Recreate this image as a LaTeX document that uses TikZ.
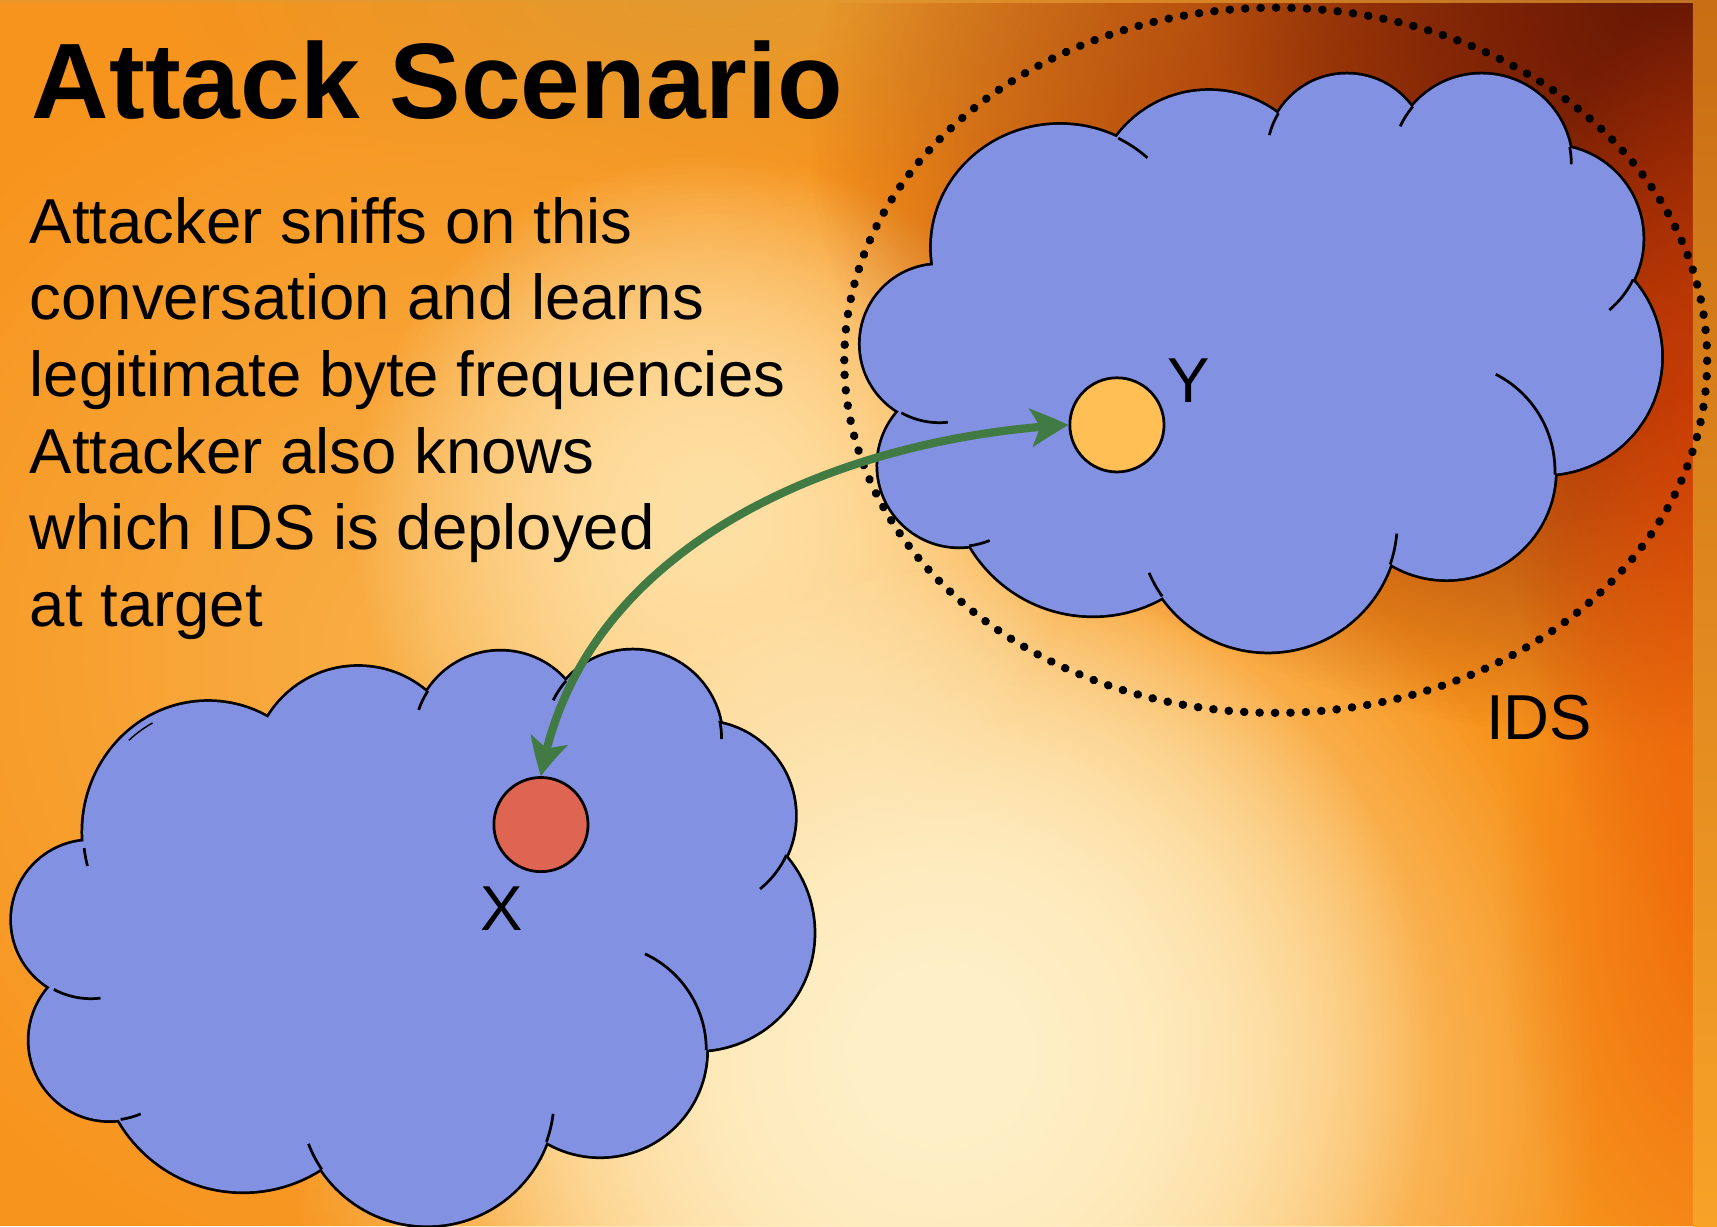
\documentclass[tikz,border=0pt]{standalone}
\usepackage{fontspec}
\setmainfont{Liberation Sans}
\usetikzlibrary{arrows.meta,bending,fadings}

\definecolor{bgbase}{RGB}{247,148,29}
\definecolor{bgwarm}{RGB}{249,176,72}
\definecolor{bgpeach}{RGB}{255,216,144}
\definecolor{bgcream}{RGB}{255,240,200}
\definecolor{bgband}{RGB}{255,224,164}
\definecolor{bggold}{RGB}{227,154,48}
\definecolor{bgdark}{RGB}{100,22,4}
\definecolor{bgrust}{RGB}{150,44,6}
\definecolor{bgred}{RGB}{204,58,4}
\definecolor{bgedge}{RGB}{240,106,10}
\definecolor{stripTop}{RGB}{200,110,20}
\definecolor{stripBot}{RGB}{248,162,40}
\definecolor{cloudblue}{RGB}{131,145,227}
\definecolor{nodeYfill}{RGB}{255,191,85}
\definecolor{nodeXfill}{RGB}{223,101,83}
\definecolor{linkgreen}{RGB}{66,122,68}

% radial mask: opaque at the centre, clear at the rim of the filled path
\tikzfading[name=glow, inner color=transparent!0, outer color=transparent!100]

\begin{document}
\begin{tikzpicture}[x=1pt,y=1pt,
  halo/.style={fill=#1, path fading=glow},
  cloudline/.style={draw=black, line width=2.5pt},
  cloudrim/.style={draw=black, line width=5pt},
  cloudfill/.style={fill=cloudblue},
  host/.style={circle, draw=black, line width=2.5pt, minimum size=86pt, inner sep=0pt},
  body/.style={font=\fontsize{58pt}{70pt}\selectfont, anchor=base west, inner sep=0pt},
  tag/.style={font=\fontsize{58pt}{70pt}\selectfont, anchor=base west, inner sep=0pt},
  link/.style={draw=linkgreen, line width=7.5pt,
    arrows={Stealth[length=35pt,width=36pt,inset=9pt,line width=0pt,bend]-Stealth[length=35pt,width=36pt,inset=9pt,line width=0pt,bend]}},
  idsring/.style={draw=black, line width=7.6pt, line cap=round, dash pattern=on 0.3pt off 13.8pt}
]
\useasboundingbox (0,0) rectangle (1568,-1120);
\clip (0,0) rectangle (1568,-1120);

% ---- warm background ----
\fill[bgbase] (0,0) rectangle (1568,-1120);
\fill[halo=bgwarm] (400,-600) circle[radius=600];
\foreach \k in {1,2}
  \fill[halo=bgpeach] (860,-1000) circle[radius=600];
\foreach \k in {1,2}
  \fill[halo=bgband] (650,-470) circle[radius=330];
\foreach \k in {1,2}
  \fill[halo=bgcream] (860,-960) circle[radius=450];
\fill[halo=bggold] (650,0) ellipse[x radius=520, y radius=170];
\foreach \k in {1,2}
  \fill[halo=bgrust] (1560,-120) ellipse[x radius=820, y radius=560];
\fill[halo=bgdark] (1560,0) ellipse[x radius=460, y radius=280];
\fill[halo=bgred] (1568,-420) ellipse[x radius=190, y radius=440];
\fill[halo=bgedge] (1568,-800) ellipse[x radius=200, y radius=450];
\shade[top color=stripTop, bottom color=stripBot] (1546,0) rectangle (1568,-1120);
\fill[bggold, opacity=0.7] (0,0) rectangle (1546,-3);

% ---- IDS boundary ----
\draw[idsring] (771,-329) arc[start angle=180, end angle=-180, x radius=394, y radius=322];

% ---- network cloud around X ----
\begin{scope}
  \draw[cloudrim] (190,-760) ellipse[x radius=114, y radius=119];
  \foreach \cx/\cy/\r in {327/705/96, 457/674/79, 578/675/81, 640/745/86, 636/852/107,
                          548/959/97, 390/1003/116, 222/957/131, 100/950/73, 83/840/72}
    \draw[cloudrim] (\cx,-\cy) circle[radius=\r];
  \fill[cloudfill] (190,-760) ellipse[x radius=114, y radius=119];
  \foreach \cx/\cy/\r in {327/705/96, 457/674/79, 578/675/81, 640/745/86, 636/852/107,
                          548/959/97, 390/1003/116, 222/957/131, 100/950/73, 83/840/72}
    \fill[cloudfill] (\cx,-\cy) circle[radius=\r];
  \fill[cloudfill] (190,-760) -- (327,-705) -- (457,-674) -- (578,-675) -- (640,-745)
    -- (636,-852) -- (548,-959) -- (390,-1003) -- (222,-957) -- (100,-950) -- (83,-840) -- cycle;
  % inner seams of the puffs
  \draw[cloudline] (190,-760) ++(187:114 and 119) arc[start angle=187, end angle=195, x radius=114, y radius=119];
  \draw[black, line width=1.3pt] (190,-760) ++(132:108 and 113) arc[start angle=132, end angle=118, x radius=108, y radius=113];
  \foreach \cx/\cy/\r/\a/\b in {457/674/79/147/161, 578/675/81/139/154, 578/675/81/12/0,
                                640/745/86/-24.5/-51, 548/959/97/0/65, 390/1003/116/-20/-7,
                                390/1003/116/214/201, 100/950/73/-82/-67, 83/840/72/242/277}
    \draw[cloudline] (\cx,-\cy) ++(\a:\r) arc[start angle=\a, end angle=\b, radius=\r];
\end{scope}

% ---- network cloud around Y ----
\begin{scope}
  \draw[cloudrim] (968,-226) ellipse[x radius=117, y radius=112];
  \foreach \cx/\cy/\r in {1104/188/105, 1230/141/73, 1353/150/82, 1415/218/85, 1410/326/107,
                          1321/430/99, 1158/477/118, 998/432/130, 876/425/74, 858/314/72}
    \draw[cloudrim] (\cx,-\cy) circle[radius=\r];
  \fill[cloudfill] (968,-226) ellipse[x radius=117, y radius=112];
  \foreach \cx/\cy/\r in {1104/188/105, 1230/141/73, 1353/150/82, 1415/218/85, 1410/326/107,
                          1321/430/99, 1158/477/118, 998/432/130, 876/425/74, 858/314/72}
    \fill[cloudfill] (\cx,-\cy) circle[radius=\r];
  \fill[cloudfill] (968,-226) -- (1104,-188) -- (1230,-141) -- (1353,-150) -- (1415,-218)
    -- (1410,-326) -- (1321,-430) -- (1158,-477) -- (998,-432) -- (876,-425) -- (858,-314) -- cycle;
  % inner seams of the puffs
  \draw[cloudline] (968,-226) ++(63:117 and 112) arc[start angle=63, end angle=47, x radius=117, y radius=112];
  \foreach \cx/\cy/\r/\a/\b in {1230/141/73/149/166, 1353/150/82/140/155, 1353/150/82/11/0,
                                1415/218/85/-26/-50, 1321/430/99/-2/63, 1158/477/118/-19/-5,
                                1158/477/118/215/203, 876/425/74/-83/-68, 858/314/72/241/276}
    \draw[cloudline] (\cx,-\cy) ++(\a:\r) arc[start angle=\a, end angle=\b, radius=\r];
\end{scope}

% ---- hosts and labels ----
\node[host, fill=nodeYfill] (y) at (1020,-388) {};
\node[host, fill=nodeXfill] (x) at (494,-753) {};
\node[tag] (ylabel) at (1066,-368) {Y};
\node[tag] (xlabel) at (439,-850) {X};
\node[tag] (idslabel) at (1357,-675) {IDS};

% ---- observed conversation ----
\draw[link] (x.north) .. controls +(36,208) and +(-216,-12) .. (y.west);

% ---- title and description ----
\node[font=\fontsize{98pt}{118pt}\selectfont\bfseries, anchor=base west, inner sep=0pt] (title) at (29,-108) {Attack Scenario};
\node[body] (l1) at (27,-222) {Attacker sniffs on this};
\node[body] (l2) at (27,-292) {conversation and learns};
\node[body] (l3) at (27,-362) {legitimate byte frequencies};
\node[body] (l4) at (27,-432) {Attacker also knows};
\node[body] (l5) at (27,-502) {which IDS is deployed};
\node[body] (l6) at (27,-572) {at target};
\end{tikzpicture}
\end{document}
